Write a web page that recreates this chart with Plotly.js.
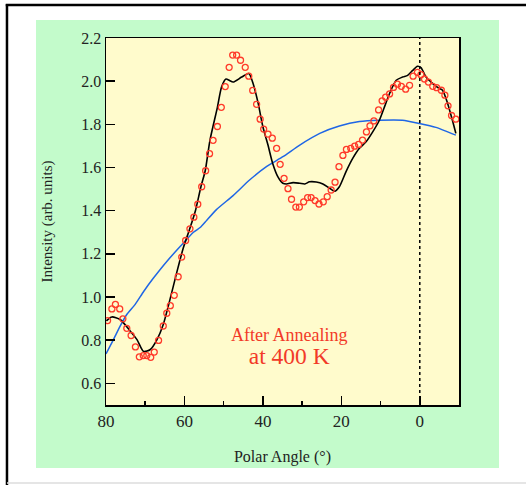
<!DOCTYPE html>
<html>
<head>
<meta charset="utf-8">
<script src="https://cdn.plot.ly/plotly-3.0.1.min.js"></script>
<style>html,body{margin:0;padding:0;background:#fff;}#chart{width:526px;height:485px;}</style>
</head>
<body>
<div id="chart"></div>
<script>
// Measured data (red open circles)
var dataAngle = [79.6,78.5,77.6,76.5,75.7,74.7,73.6,72.5,71.5,70.5,69.6,68.6,67.7,66.6,65.4,64.5,63.6,62.6,61.6,60.7,
  59.7,58.6,57.6,56.6,55.6,54.6,53.6,52.7,51.6,50.6,49.6,48.6,47.7,46.7,45.7,44.5,43.6,42.6,41.6,40.7,
  39.8,38.7,37.6,36.5,35.6,34.6,33.6,32.7,31.6,30.7,29.6,28.6,27.7,26.7,25.7,24.6,23.6,22.6,21.6,20.6,
  19.6,18.7,17.6,16.6,15.6,14.6,13.6,12.7,11.7,10.5,9.6,8.7,7.7,6.7,5.7,4.7,3.6,2.6,1.7,0.6,
  -0.3,-1.2,-2.2,-3.3,-4.3,-5.5,-6.4,-7.2,-8.1,-9.2];
var dataIntensity = [0.891,0.945,0.966,0.945,0.899,0.855,0.822,0.769,0.723,0.729,0.729,0.721,0.745,0.799,0.866,0.925,0.960,1.008,1.094,1.185,
  1.262,1.316,1.370,1.430,1.511,1.585,1.664,1.726,1.790,1.879,1.975,2.064,2.121,2.121,2.097,2.064,2.023,1.957,1.893,1.824,
  1.778,1.755,1.736,1.689,1.615,1.550,1.502,1.453,1.417,1.417,1.441,1.461,1.461,1.447,1.431,1.441,1.465,1.496,1.532,1.604,
  1.656,1.684,1.689,1.699,1.707,1.727,1.765,1.793,1.816,1.867,1.909,1.926,1.941,1.971,1.986,1.976,1.963,1.981,2.023,2.041,
  2.030,2.010,1.996,1.976,1.970,1.958,1.935,1.886,1.841,1.824];

// Simulation (black line)
var fitAngle = [79.9,78.5,76.4,73.8,72.1,70.4,68.7,67.0,65.4,63.7,62.0,60.3,58.6,57.2,55.8,54.7,53.5,51.6,50.5,49.4,
  48.5,47.6,45.4,43.6,42.5,41.2,40.0,38.7,37.5,36.2,34.9,34.0,32.3,30.6,29.3,28.1,26.4,24.7,23.0,21.7,
  20.5,18.8,17.1,15.4,13.7,12.0,10.3,9.0,7.7,6.0,4.4,3.1,1.8,0.6,-0.3,-1.6,-3.3,-5.0,-5.8,-7.1,-8.2,-9.2];
var fitIntensity = [0.890,0.908,0.896,0.842,0.803,0.748,0.757,0.803,0.873,0.988,1.111,1.227,1.319,1.400,1.511,1.585,1.726,1.879,1.975,2.010,
  2.003,1.996,2.019,2.035,1.989,1.897,1.789,1.704,1.619,1.558,1.527,1.524,1.530,1.527,1.524,1.534,1.533,1.524,1.504,1.490,
  1.511,1.581,1.642,1.689,1.719,1.765,1.819,1.881,1.943,2.004,2.019,2.027,2.050,2.069,2.063,2.019,1.989,1.966,1.958,1.897,1.827,1.758];

// Background (blue line)
var bgAngle = [80.0,78.1,76.4,74.7,72.6,70.4,67.9,64.5,61.1,57.7,56.0,54.3,51.9,47.6,43.4,39.1,34.9,30.6,25.5,20.5,15.4,10.3,4.4,0.1,-4.1,-9.2];
var bgIntensity = [0.737,0.803,0.865,0.919,0.965,1.026,1.088,1.165,1.234,1.300,1.322,1.356,1.404,1.470,1.542,1.604,1.650,1.704,1.758,1.792,1.813,1.819,1.819,1.804,1.786,1.750];

var yTicks = [0.6,0.8,1.0,1.2,1.4,1.6,1.8,2.0,2.2];
var xTicks = [80,60,40,20,0];
var note1 = "After Annealing";
var note2 = "at 400 K";

var serif = "Liberation Serif, Times New Roman, serif";

var traces = [
  {x: bgAngle, y: bgIntensity, mode: 'lines', line: {color: '#1f66e5', width: 1.5, shape: 'spline', smoothing: 0.5}, hoverinfo: 'skip'},
  {x: fitAngle, y: fitIntensity, mode: 'lines', line: {color: '#000000', width: 1.6, shape: 'spline', smoothing: 0.7}, hoverinfo: 'skip'},
  {x: dataAngle, y: dataIntensity, mode: 'markers', marker: {symbol: 'circle-open', size: 6, color: '#ff3a2a', line: {width: 1.3, color: '#ff3a2a'}}, hoverinfo: 'skip'}
];

var layout = {
  width: 526, height: 485,
  margin: {l: 106, r: 67, t: 38, b: 80},
  paper_bgcolor: '#ffffff',
  plot_bgcolor: 'rgba(0,0,0,0)',
  showlegend: false,
  font: {family: serif, color: '#222', size: 15},
  xaxis: {
    range: [80, -10], autorange: false,
    tickmode: 'array', tickvals: xTicks, ticktext: xTicks.map(String),
    ticks: 'inside', ticklen: 9, tickwidth: 1.5, tickcolor: '#000',
    minor: {tickmode: 'array', tickvals: [70,50,30,10], ticks: 'inside', ticklen: 4, tickwidth: 1.5, tickcolor: '#000'},
    showline: true, mirror: true, linecolor: '#000', linewidth: 1.5,
    showgrid: false, zeroline: false,
    tickfont: {family: serif, size: 17, color: '#222'},
    title: {text: 'Polar Angle (°)', font: {family: serif, size: 16, color: '#222'}, standoff: 21}
  },
  yaxis: {
    range: [0.5, 2.2], autorange: false,
    tickmode: 'array', tickvals: yTicks, ticktext: yTicks.map(function(v){return v.toFixed(1);}),
    ticks: 'inside', ticklen: 9, tickwidth: 1.5, tickcolor: '#000',
    showline: true, mirror: true, linecolor: '#000', linewidth: 1.5,
    showgrid: false, zeroline: false,
    tickfont: {family: serif, size: 16, color: '#222'},
    title: {text: 'Intensity (arb. units)', font: {family: serif, size: 15, color: '#222'}, standoff: 25}
  },
  shapes: [
    // green panel
    {type: 'rect', xref: 'paper', yref: 'paper', x0: -0.1983, x1: 1.1133, y0: -0.1717, y1: 1.049, fillcolor: '#c3fbcb', line: {width: 0}, layer: 'below'},
    // yellow plot area
    {type: 'rect', xref: 'paper', yref: 'paper', x0: 0, x1: 1, y0: 0, y1: 1, fillcolor: '#fffbcc', line: {width: 0}, layer: 'below'},
    // outer frame lines
    {type: 'line', xref: 'paper', yref: 'paper', x0: -0.2805, x1: -0.2805, y0: 1.092, y1: -0.222, line: {color: '#000', width: 2.5}},
    {type: 'line', xref: 'paper', yref: 'paper', x0: -0.284, x1: 1.2, y0: 1.0899, y1: 1.0899, line: {color: '#000', width: 2.5}},
    {type: 'line', xref: 'paper', yref: 'paper', x0: -0.2805, x1: 1.2, y0: -0.2125, y1: -0.2125, line: {color: '#dddddd', width: 1.5}},
    // dotted line at 0 deg
    {type: 'line', xref: 'x', yref: 'paper', x0: 0, x1: 0, y0: 0, y1: 1, line: {color: '#000', width: 1.5, dash: 'dot'}}
  ],
  annotations: [
    {xref: 'paper', yref: 'paper', x: 0.518, y: 0.158, yanchor: 'middle', align: 'center',
     text: note1 + '<br><span style="font-size:23.5px">' + note2 + '</span>',
     showarrow: false, font: {family: serif, size: 18, color: '#f23a28'}}
  ]
};

Plotly.newPlot('chart', traces, layout, {displayModeBar: false, staticPlot: true});
</script>
</body>
</html>
